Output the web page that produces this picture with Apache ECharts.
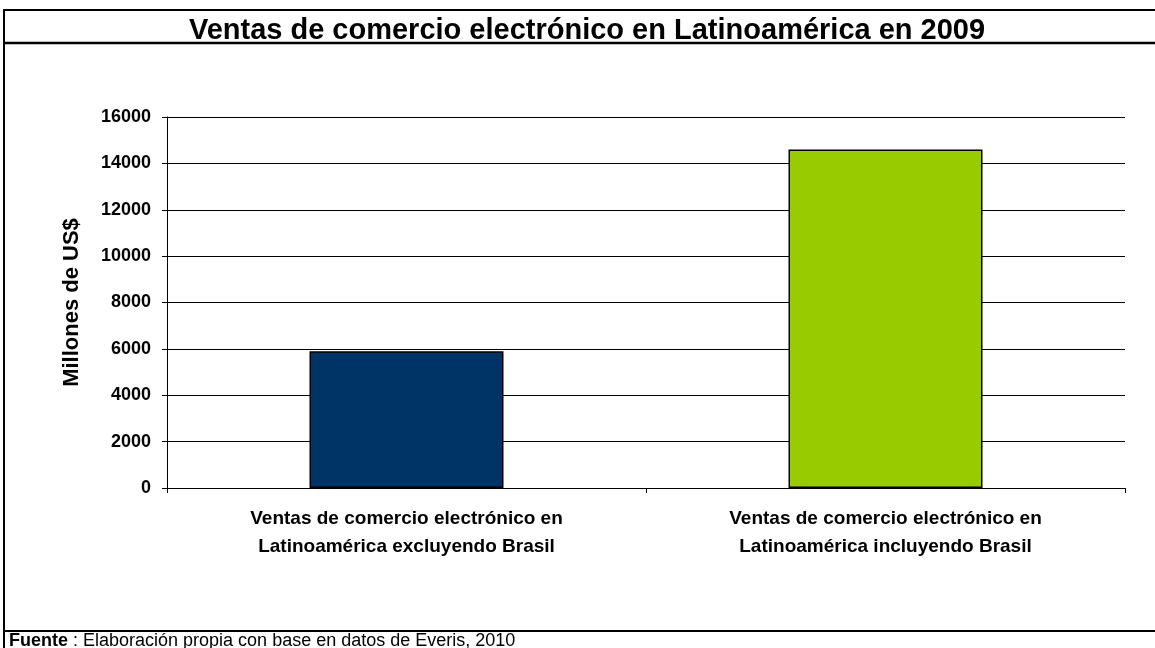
<!DOCTYPE html>
<html><head><meta charset="utf-8">
<script src="https://cdn.jsdelivr.net/npm/echarts@6/dist/echarts.min.js"></script>
<style>html,body{margin:0;padding:0;background:#fff}#c{width:1155px;height:648px}</style>
</head><body><div id="c"></div>
<script>
const categories = ["Ventas de comercio electrónico en\nLatinoamérica excluyendo Brasil", "Ventas de comercio electrónico en\nLatinoamérica incluyendo Brasil"];
const values = [5900, 14600];
const barColors = ["#003366", "#99CC00"];
const yTicks = [0, 2000, 4000, 6000, 8000, 10000, 12000, 14000, 16000];
const titleText = "Ventas de comercio electrónico en Latinoamérica en 2009";
const yName = "Millones de US$";
const sourceBold = "Fuente";
const sourceText = " : Elaboración propia con base en datos de Everis, 2010";

const F = "'Liberation Sans', Arial, sans-serif";
const chart = echarts.init(document.getElementById('c'));
chart.setOption({
  animation: false,
  title: {text: titleText, left: 582, top: 11, textAlign: 'center',
    textStyle: {fontFamily: F, fontWeight: 'bold', fontSize: 29, color: '#000'}},
  grid: {left: 167, right: 30, top: 117, bottom: 160},
  xAxis: {type: 'category', data: categories,
    axisLine: {lineStyle: {color: '#000', width: 1}},
    axisTick: {show: true, length: 5, lineStyle: {color: '#000'}},
    axisLabel: {fontFamily: F, fontWeight: 'bold', fontSize: 19, color: '#000', lineHeight: 28, margin: 17}},
  yAxis: {type: 'value', min: yTicks[0], max: yTicks[yTicks.length-1], interval: 2000,
    name: yName, nameLocation: 'middle', nameGap: 84, nameRotate: 90,
    nameTextStyle: {fontFamily: F, fontWeight: 'bold', fontSize: 22, color: '#000'},
    axisLine: {show: true, lineStyle: {color: '#000'}},
    axisTick: {show: true, length: 5, lineStyle: {color: '#000'}},
    axisLabel: {fontFamily: F, fontWeight: 'bold', fontSize: 18, color: '#000', margin: 16,
      formatter: v => String(v)},
    splitLine: {lineStyle: {color: '#000', width: 1}}},
  series: [{type: 'bar', barWidth: '40.5%',
    data: values.map((v, i) => ({value: v, itemStyle: {color: barColors[i]}})),
    itemStyle: {borderColor: '#000', borderWidth: 1.5}}],
  graphic: [
    {type: 'line', shape: {x1: 3, y1: 10, x2: 1155, y2: 10}, style: {stroke: '#000', lineWidth: 2}},
    {type: 'line', shape: {x1: 4, y1: 10, x2: 4, y2: 648}, style: {stroke: '#000', lineWidth: 2}},
    {type: 'line', shape: {x1: 3, y1: 43, x2: 1155, y2: 43}, style: {stroke: '#000', lineWidth: 2.5}},
    {type: 'line', shape: {x1: 3, y1: 631, x2: 1155, y2: 631}, style: {stroke: '#000', lineWidth: 2}},
    {type: 'text', left: 9, top: 632, style: {
      text: '{b|' + sourceBold + '}' + sourceText,
      rich: {b: {fontWeight: 'bold', fontFamily: F, fontSize: 18, fill: '#000'}},
      font: '18px ' + F, fill: '#000'}}
  ]
});
</script></body></html>
